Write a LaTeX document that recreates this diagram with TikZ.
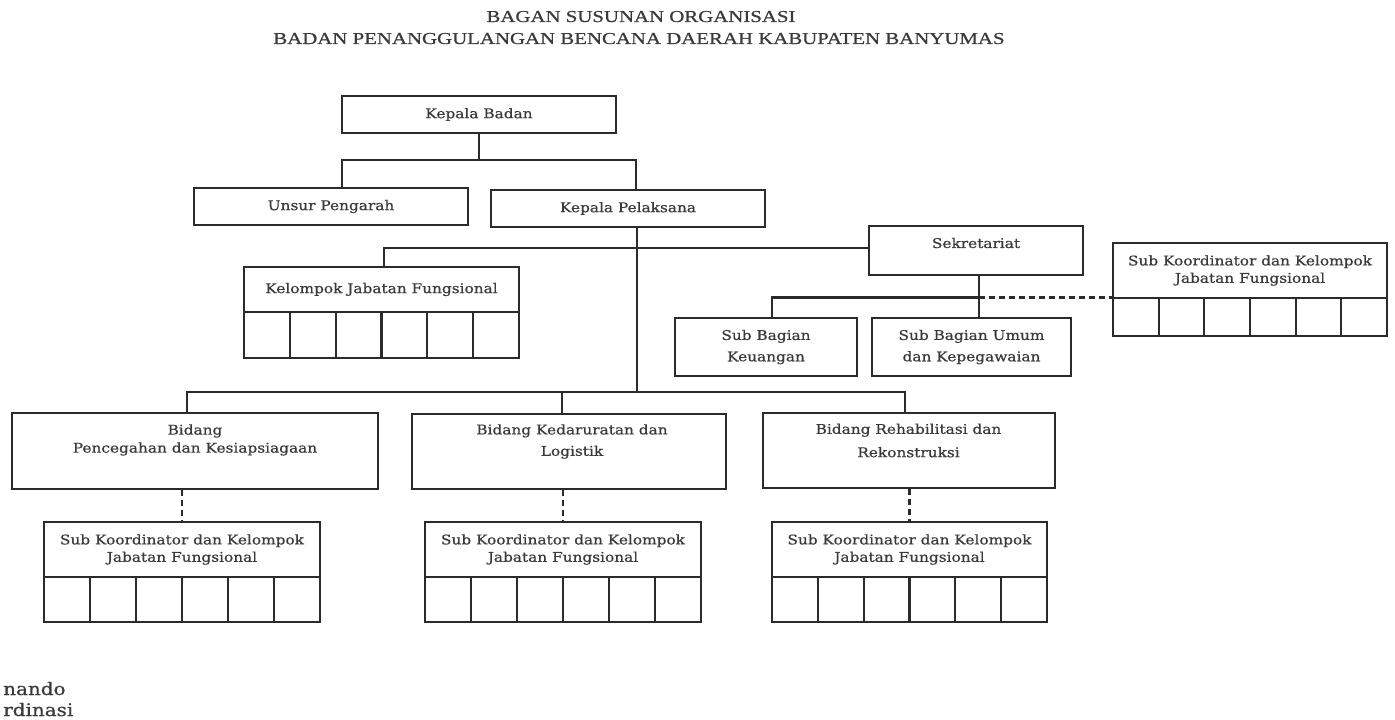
\documentclass[tikz,border=0pt]{standalone}
\usepackage{fontspec}
\newfontfamily\boxfont[FakeStretch=1.15,FakeBold=0.6]{DejaVu Serif}
\newfontfamily\titlefont[FakeStretch=1.25,FakeBold=0.7]{Liberation Serif}
\newcommand\bfnt{\boxfont\fontsize{10}{13}\selectfont}
\newcommand\tfnt{\titlefont\fontsize{12.5}{15}\selectfont}
\newcommand\lfnt{\boxfont\fontsize{13}{16}\selectfont}
\definecolor{linec}{HTML}{2B2B2B}
\definecolor{textc}{HTML}{3A3A3A}
\begin{document}
\begin{tikzpicture}[x=0.75pt,y=-0.75pt,
  box/.style={draw=linec,line width=1.6pt,inner sep=0pt,align=center,text=textc,font=\bfnt},
  sz/.style 2 args={minimum width={#1*0.75pt},minimum height={#2*0.75pt}},
  lbl/.style={inner sep=0pt,align=center,text=textc,font=\bfnt},
  ttl/.style={inner sep=0pt,text=textc,font=\tfnt,anchor=base},
  leg/.style={inner sep=0pt,text=textc,font=\lfnt,anchor=base west},
  conn/.style={draw=linec,line width=1.6pt},
  dconn/.style={draw=linec,line width=1.6pt,dash pattern=on 4.5pt off 3pt}]
\fill[white] (0,0) rectangle (1395,720);
\useasboundingbox (0,0) rectangle (1395,720);

% title
\node[ttl] (t1) at (641,22) {BAGAN SUSUNAN ORGANISASI};
\node[ttl] (t2) at (639,44) {BADAN PENANGGULANGAN BENCANA DAERAH KABUPATEN BANYUMAS};

% top
\node[box,sz={274}{37}] (kb) at (479,114.5) {Kepala Badan};
\node[box,sz={274}{37}] (up) at (331,206.5) {Unsur Pengarah};
\node[box,sz={274}{37}] (kp) at (628,208.5) {Kepala Pelaksana};

\coordinate (j1) at (479,160);
\coordinate (j1l) at (342,160);
\coordinate (j1r) at (636,160);
\draw[conn] (kb.south) -- (j1);
\draw[conn] (up.north -| j1l) -- (j1l) -- (j1r) -- (kp.north -| j1r);

% kelompok jabatan fungsional
\node[box,sz={275}{45}] (kjf) at (381.5,289.5) {Kelompok Jabatan Fungsional};
\foreach \i in {1,...,6}
  \node[box,sz={45.83}{46}] (kjf\i) at ({244+45.83*(\i-0.5)},335) {};

% sekretariat
\node[box,sz={214}{49}] (sek) at (976,250.5) {};
\node[lbl] (sekt) at (976,243) {Sekretariat};

\coordinate (j3) at (637,392);
\coordinate (k1) at (384,248);
\draw[conn] (kp.south -| j3) -- (j3);
\draw[conn] (kjf.north -| k1) -- (k1) -- (k1 -| sek.west);

\node[box,sz={182}{58}] (sbk) at (766,347) {Sub Bagian\\[3pt]Keuangan};
\node[box,sz={199}{58}] (sbu) at (971.5,347) {Sub Bagian Umum\\[3pt]dan Kepegawaian};

% right sub koordinator
\node[box,sz={274}{55}] (rsk) at (1250,270.5) {Sub Koordinator dan Kelompok\\Jabatan Fungsional};
\foreach \i in {1,...,6}
  \node[box,sz={45.67}{38}] (rsk\i) at ({1113+45.67*(\i-0.5)},317) {};

\coordinate (s1) at (979,297.5);
\coordinate (s2) at (772,297.5);
\draw[conn] (sek.south -| s1) -- (sbu.north -| s1);
\draw[conn] (s1) -- (s2) -- (sbk.north -| s2);
\draw[dconn] (s1) -- (s1 -| rsk.west);

% bidang
\node[box,sz={366}{76}] (bd1) at (195,451) {};
\node[lbl] (bd1t) at (195,440) {Bidang\\[0.5pt]Pencegahan dan Kesiapsiagaan};
\node[box,sz={314}{75}] (bd2) at (569,451.5) {};
\node[lbl] (bd2t) at (572,441.5) {Bidang Kedaruratan dan\\[3pt]Logistik};
\node[box,sz={292}{75}] (bd3) at (909,450.5) {};
\node[lbl] (bd3t) at (908.5,440.5) {Bidang Rehabilitasi dan\\[4.5pt]Rekonstruksi};

\coordinate (b1) at (187,392);
\coordinate (b2) at (562,392);
\coordinate (b3) at (905,392);
\draw[conn] (bd1.north -| b1) -- (b1) -- (b3) -- (bd3.north -| b3);
\draw[conn] (b2) -- (bd2.north -| b2);

% sub koordinator under bidang
\node[box,sz={276}{55}] (sk1) at (182,549.5) {Sub Koordinator dan Kelompok\\Jabatan Fungsional};
\node[box,sz={276}{55}] (sk2) at (563,549.5) {Sub Koordinator dan Kelompok\\Jabatan Fungsional};
\node[box,sz={275}{55}] (sk3) at (909.5,549.5) {Sub Koordinator dan Kelompok\\Jabatan Fungsional};
\foreach \i in {1,...,6} {
  \node[box,sz={46}{45}] (skA\i) at ({44+46*(\i-0.5)},599.5) {};
  \node[box,sz={46}{45}] (skB\i) at ({425+46*(\i-0.5)},599.5) {};
  \node[box,sz={45.83}{45}] (skC\i) at ({772+45.83*(\i-0.5)},599.5) {};
}
\draw[dconn] (bd1.south -| sk1.north) -- (sk1.north);
\draw[dconn] (bd2.south -| sk2.north) -- (sk2.north);
\draw[dconn] (bd3.south -| sk3.north) -- (sk3.north);

% legend (cut off at the left edge)
\node[leg] (l1) at (3,695) {nando};
\node[leg] (l2) at (3,716) {rdinasi};
\end{tikzpicture}
\end{document}
